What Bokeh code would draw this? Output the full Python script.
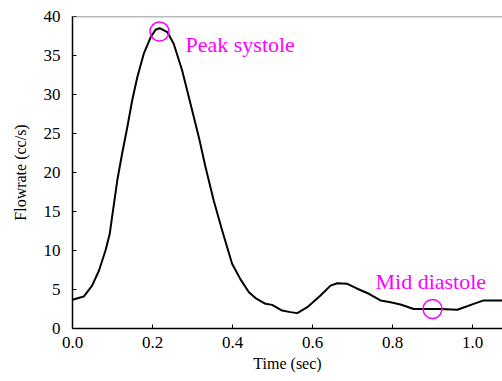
from bokeh.plotting import figure
from bokeh.models import Range1d, FixedTicker, PrintfTickFormatter, Span, Label
from bokeh.embed import file_html
from bokeh.resources import INLINE

# Data
time_sec = [0.0, 0.028, 0.049, 0.066, 0.0825, 0.093, 0.099, 0.112, 0.124, 0.137,
            0.149, 0.162, 0.178, 0.195, 0.2075, 0.218, 0.237, 0.253, 0.274, 0.295,
            0.316, 0.3325, 0.353, 0.374, 0.399, 0.42, 0.441, 0.4575, 0.4825, 0.499,
            0.524, 0.545, 0.562, 0.587, 0.62, 0.645, 0.662, 0.687, 0.712, 0.741,
            0.77, 0.795, 0.82, 0.853, 0.92, 0.962, 0.978, 1.003, 1.028, 1.075]
flowrate = [3.68, 4.1, 5.5, 7.4, 10.0, 12.1, 14.3, 19.0, 22.4, 25.8,
            29.2, 32.2, 35.2, 37.3, 38.3, 38.5, 38.0, 36.5, 33.1, 28.8,
            24.5, 20.7, 16.4, 12.6, 8.3, 6.3, 4.65, 3.9, 3.16, 3.03,
            2.3, 2.1, 1.97, 2.74, 4.23, 5.5, 5.8, 5.73, 5.1, 4.45,
            3.6, 3.37, 3.08, 2.5, 2.5, 2.4, 2.7, 3.16, 3.6, 3.6]

x_ticks = [0.0, 0.2, 0.4, 0.6, 0.8, 1.0]
y_ticks = [0, 5, 10, 15, 20, 25, 30, 35, 40]

marker_x = [0.2175, 0.9]
marker_y = [38.08, 2.5]
label_x = [0.2825, 0.7575]
label_y = [36.4, 6.0]
label_text = ["Peak systole", "Mid diastole"]

SERIF = "Liberation Serif"
MAGENTA = "#FF00FF"

p = figure(width=502, height=381, output_backend="svg",
           toolbar_location=None,
           x_range=Range1d(0, 1.075), y_range=Range1d(0, 40),
           min_border_left=72, min_border_right=0, min_border_top=16,
           min_border_bottom=53)
p.outline_line_color = None
p.background_fill_color = "white"
p.border_fill_color = "white"
p.grid.visible = False

p.line(time_sec, flowrate, line_color="black", line_width=2,
       line_join="round")

p.scatter(marker_x, marker_y, marker="circle", size=19, fill_color=None,
          line_color=MAGENTA, line_width=1.5)
for lx, ly, lt in zip(label_x, label_y, label_text):
    p.add_layout(Label(x=lx, y=ly, text=lt, text_color=MAGENTA,
                       text_font="Times New Roman", text_font_style="normal",
                       text_font_size="22px",
                       text_align="left", text_baseline="alphabetic"))

p.add_layout(Span(location=40, dimension="width", line_color="#777777",
                  line_width=1.5))

for ax in (p.xaxis[0], p.yaxis[0]):
    ax.axis_line_color = "black"
    ax.axis_line_width = 1.5
    ax.major_tick_in = 4
    ax.major_tick_out = 0
    ax.major_tick_line_color = "black"
    ax.major_tick_line_width = 1
    ax.minor_tick_line_color = None
    ax.major_label_text_font = SERIF
    ax.major_label_text_font_size = "17px"
    ax.major_label_text_color = "black"
    ax.axis_label_text_font = SERIF
    ax.axis_label_text_font_size = "16px"
    ax.axis_label_text_font_style = "normal"
    ax.axis_label_text_color = "black"

p.xaxis.ticker = FixedTicker(ticks=x_ticks)
p.xaxis.formatter = PrintfTickFormatter(format="%.1f")
p.yaxis.ticker = FixedTicker(ticks=y_ticks)
p.yaxis.formatter = PrintfTickFormatter(format="%d")
p.xaxis.axis_label = "Time (sec)"
p.yaxis.axis_label = "Flowrate (cc/s)"
p.xaxis.major_label_standoff = 8
p.yaxis.major_label_standoff = 12
p.xaxis.axis_label_standoff = 4
p.yaxis.axis_label_standoff = 12

open("out.html", "w").write(file_html(p, INLINE))
